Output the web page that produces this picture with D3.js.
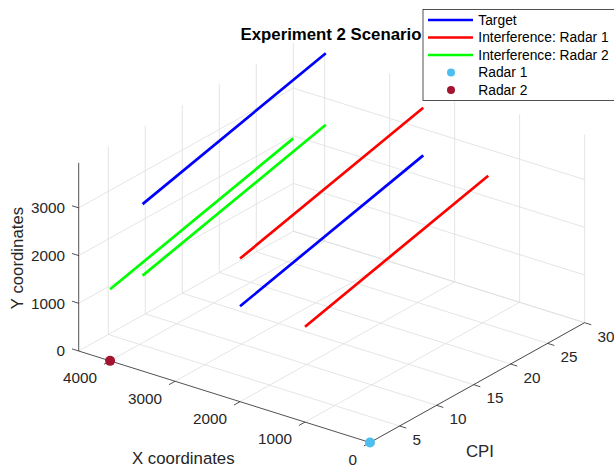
<!DOCTYPE html>
<html>
<head>
<meta charset="utf-8">
<script src="https://cdn.jsdelivr.net/npm/d3@7"></script>
<style>
  html, body { margin: 0; padding: 0; background: #fff; }
  svg { display: block; font-family: "Liberation Sans", Arial, Helvetica, sans-serif; }
</style>
</head>
<body>
<svg id="chart" width="614" height="469"></svg>
<script>
// ---- Data ----------------------------------------------------------------
// Axis extents (tight to the data) and tick values
const xLimits = [0, 4483];      // X coordinates
const cpiLimits = [1, 30];      // CPI index
const yLimits = [0, 3945];      // Y coordinates (vertical axis)
const xTicks = [0, 1000, 2000, 3000, 4000];
const cpiTicks = [5, 10, 15, 20, 25, 30];
const yTicks = [0, 1000, 2000, 3000];

// Tracks from CPI 1 to CPI 30: [start, end] per track
const targetX  = [[3500, 3983], [2000, 2483]];
const targetY  = [[3500, 3945], [2000, 2445]];
const interf1X = [[2000, 2483], [1000, 1483]];
const interf1Y = [[3000, 3445], [2000, 2445]];
const interf2X = [[4000, 4483], [3500, 3983]];
const interf2Y = [[1500, 1945], [2000, 2445]];

// Radar positions [x, y, cpi]
const radar1 = [0, 0, 1];
const radar2 = [4000, 0, 1];

const seriesNames = ["Target", "Interference: Radar 1", "Interference: Radar 2", "Radar 1", "Radar 2"];
const seriesColors = ["#0000ff", "#ff0000", "#00ff00", "#4dbeee", "#a2142f"];

// ---- 3-D projection -------------------------------------------------------
const svg = d3.select("#chart");
const origin = [370, 442.5];  // screen point of (x=0, cpi=1, y=0)
const xVec = d3.scaleLinear().domain(xLimits).range([[0, 0], [-291.3, -91.5]]);
const cVec = d3.scaleLinear().domain(cpiLimits).range([[0, 0], [214.6, -119.8]]);
const zVec = d3.scaleLinear().domain(yLimits).range([[0, 0], [0, -188.2]]);

function proj(x, c, z) {
  const a = xVec(x), b = cVec(c), d = zVec(z);
  return [origin[0] + a[0] + b[0] + d[0], origin[1] + a[1] + b[1] + d[1]];
}
function unit(v) { const n = Math.hypot(v[0], v[1]); return [v[0] / n, v[1] / n]; }
function seg(g, p, q) {
  g.append("line").attr("x1", p[0]).attr("y1", p[1]).attr("x2", q[0]).attr("y2", q[1]);
}

const [x0, x1] = xLimits, [c0, c1] = cpiLimits, [z0, z1] = yLimits;

// ---- Grid on floor and back walls ------------------------------------------
const grid = svg.append("g").attr("stroke", "#dedede").attr("stroke-width", 0.8).attr("fill", "none");
xTicks.forEach(x => seg(grid, proj(x, c0, z0), proj(x, c1, z0)));
cpiTicks.forEach(c => seg(grid, proj(x0, c, z0), proj(x1, c, z0)));
cpiTicks.forEach(c => seg(grid, proj(x1, c, z0), proj(x1, c, z1)));
yTicks.forEach(z => seg(grid, proj(x1, c0, z), proj(x1, c1, z)));
xTicks.forEach(x => seg(grid, proj(x, c1, z0), proj(x, c1, z1)));
yTicks.forEach(z => seg(grid, proj(x0, c1, z), proj(x1, c1, z)));

// ---- Axes -----------------------------------------------------------------
const axisColor = "#262626";
const axes = svg.append("g").attr("stroke", axisColor).attr("stroke-width", 0.8).attr("fill", "none");
const labels = svg.append("g").attr("fill", axisColor).attr("font-size", "15.3px");
const tickLen = 7;

// X axis (front-left edge)
seg(axes, proj(x0, c0, z0), proj(x1, c0, z0));
const xTickDir = unit(cVec(c0 - 1)).map(v => v * tickLen); // toward lower CPI
xTicks.forEach(x => {
  const p = proj(x, c0, z0);
  seg(axes, p, [p[0] + xTickDir[0], p[1] + xTickDir[1]]);
  labels.append("text").attr("x", p[0] - 13).attr("y", p[1] + 17 + 5.3)
    .attr("text-anchor", "end").text(x);
});

// CPI axis (front-right edge)
seg(axes, proj(x0, c0, z0), proj(x0, c1, z0));
const cTickDir = unit(xVec(-1000)).map(v => v * tickLen); // toward lower x
cpiTicks.forEach(c => {
  const p = proj(x0, c, z0);
  seg(axes, p, [p[0] + cTickDir[0], p[1] + cTickDir[1]]);
  labels.append("text").attr("x", p[0] + 13).attr("y", p[1] + 13.5 + 5.3)
    .attr("text-anchor", "start").text(c);
});

// Vertical axis
seg(axes, proj(x1, c0, z0), proj(x1, c0, z1));
const zTickDir = unit(xVec(1000)).map(v => v * tickLen);
yTicks.forEach(z => {
  const p = proj(x1, c0, z);
  seg(axes, p, [p[0] + zTickDir[0], p[1] + zTickDir[1]]);
  labels.append("text").attr("x", p[0] - 13.7).attr("y", p[1] + 5.3)
    .attr("text-anchor", "end").text(z);
});

// Axis titles
const titles = svg.append("g").attr("fill", axisColor).attr("font-size", "16.8px");
titles.append("text").attr("x", 183.3).attr("y", 463.5).attr("text-anchor", "middle").text("X coordinates");
titles.append("text").attr("x", 480).attr("y", 456.5).attr("text-anchor", "middle").text("CPI");
titles.append("text").attr("transform", "translate(23,258) rotate(-90)")
  .attr("text-anchor", "middle").text("Y coordinates");

// ---- Tracks ---------------------------------------------------------------
const line = d3.line();
const trackSets = [
  { xs: targetX, ys: targetY, color: seriesColors[0] },
  { xs: interf1X, ys: interf1Y, color: seriesColors[1] },
  { xs: interf2X, ys: interf2Y, color: seriesColors[2] }
];
const tracks = svg.append("g").attr("fill", "none").attr("stroke-width", 2.7);
trackSets.forEach(set => {
  set.xs.forEach((xr, i) => {
    const yr = set.ys[i];
    tracks.append("path")
      .attr("stroke", set.color)
      .attr("d", line([proj(xr[0], c0, yr[0]), proj(xr[1], c1, yr[1])]));
  });
});

// Radars
[[radar1, seriesColors[3]], [radar2, seriesColors[4]]].forEach(([r, col]) => {
  const p = proj(r[0], r[2], r[1]);
  svg.append("circle").attr("cx", p[0]).attr("cy", p[1]).attr("r", 5).attr("fill", col);
});

// ---- Title ------------------------------------------------------------------
svg.append("text").attr("x", 331).attr("y", 40).attr("text-anchor", "middle")
  .attr("font-size", "16.8px").attr("font-weight", "bold").attr("fill", "#000")
  .text("Experiment 2 Scenario");

// ---- Legend -----------------------------------------------------------------
const legend = svg.append("g").attr("transform", "translate(423,9.5)");
legend.append("rect").attr("x", 0).attr("y", 0).attr("width", 220).attr("height", 91)
  .attr("fill", "#fff").attr("stroke", axisColor).attr("stroke-width", 0.8);
seriesNames.forEach((name, i) => {
  const cy = 10.5 + i * 17.5;
  if (i < 3) {
    legend.append("line").attr("x1", 5).attr("x2", 50).attr("y1", cy).attr("y2", cy)
      .attr("stroke", seriesColors[i]).attr("stroke-width", 2.7);
  } else {
    legend.append("circle").attr("cx", 28).attr("cy", cy).attr("r", 4).attr("fill", seriesColors[i]);
  }
  legend.append("text").attr("x", 55.3).attr("y", cy + 4.8)
    .attr("font-size", "13.8px").attr("fill", "#000").text(name);
});
</script>
</body>
</html>
